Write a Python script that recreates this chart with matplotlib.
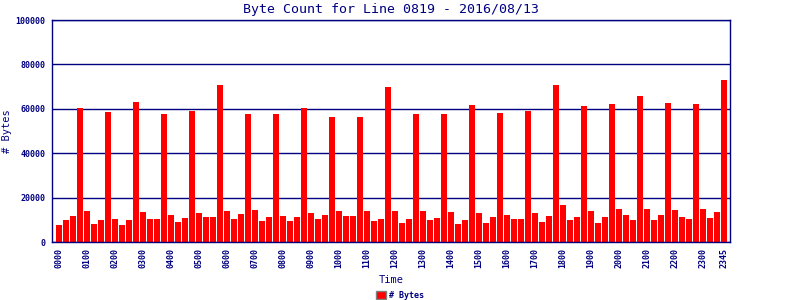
import matplotlib

matplotlib.use("Agg")
import matplotlib.pyplot as plt
from matplotlib.patches import Patch

NAVY = "#000080"
RED = "#ff0000"

# 15-minute slots, 0000 .. 2345
slot_labels = [f"{h:02d}{m:02d}" for h in range(24) for m in (0, 15, 30, 45)]
byte_counts = [
    7700, 9900, 11700, 60400, 14000, 8100, 9900, 58600,
    10400, 7700, 9900, 63100, 13500, 10400, 10400, 57700,
    12200, 9000, 10800, 59000, 13100, 11300, 11300, 70700,
    14000, 10400, 12600, 57700, 14400, 9500, 11300, 57700,
    11700, 9500, 11300, 60400, 13100, 10400, 12200, 56300,
    14000, 11700, 11700, 56300, 14000, 9500, 10400, 69800,
    14000, 8600, 10400, 57700, 14000, 9900, 10800, 57700,
    13500, 8100, 9900, 61700, 13100, 8600, 11300, 58100,
    12200, 10400, 10400, 59000, 13100, 9000, 11700, 70700,
    16700, 9900, 11300, 61300, 14000, 8600, 11300, 62200,
    14900, 12200, 9900, 65800, 14900, 9900, 12200, 62600,
    14400, 11300, 10400, 62200, 14900, 10800, 13500, 73000,
]
tick_slots = list(range(0, 96, 4)) + [95]
y_ticks = [0, 20000, 40000, 60000, 80000, 100000]

plt.rcParams["font.family"] = "DejaVu Sans Mono"

fig = plt.figure(figsize=(8, 3), dpi=100)
ax = fig.add_axes([0.065, 0.1933, 0.8475, 0.74])

x = list(range(len(byte_counts)))
ax.bar(x, byte_counts, width=0.86, color=RED, zorder=2)

ax.set_xlim(-1, 95.9)
ax.set_ylim(0, 100000)
ax.set_yticks(y_ticks)
ax.set_yticklabels([str(v) for v in y_ticks], fontsize=6, fontweight="bold", color=NAVY)
ax.set_xticks(tick_slots)
ax.set_xticklabels([slot_labels[i] for i in tick_slots], rotation=90,
                   fontsize=6, fontweight="bold", color=NAVY)
ax.tick_params(axis="y", length=0, pad=4.5)
ax.tick_params(axis="x", length=0, pad=4)
ax.yaxis.grid(True, color=NAVY, lw=1, zorder=1)
for s in ax.spines.values():
    s.set_color(NAVY)
    s.set_linewidth(1)

ax.set_title("Byte Count for Line 0819 - 2016/08/13", fontsize=9.5, color=NAVY, pad=5)
ax.set_xlabel("Time", fontsize=7.5, color=NAVY, labelpad=5)
ax.set_ylabel("# Bytes", fontsize=7.5, color=NAVY, labelpad=3)

fig.legend(handles=[Patch(facecolor=RED, edgecolor="#808080", lw=1, label="# Bytes")],
           loc="lower center", bbox_to_anchor=(0.5, -0.025), frameon=False,
           prop={"size": 6, "weight": "bold"}, handlelength=1.2, handleheight=1.0,
           handletextpad=0.4, labelcolor=NAVY)

fig.savefig("out.png", dpi=100)
